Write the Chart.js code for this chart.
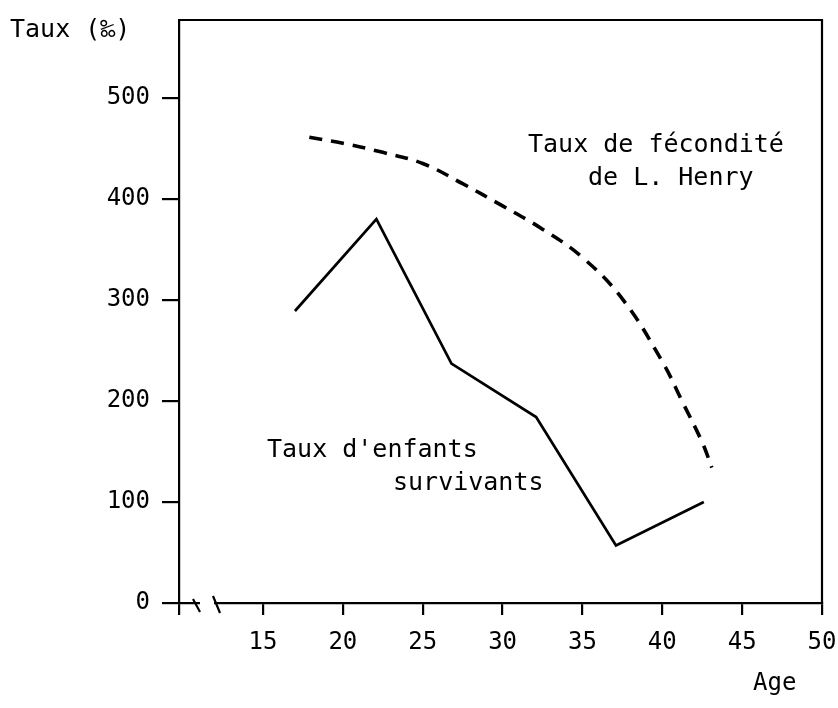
<!DOCTYPE html>
<html lang="fr">
<head>
<meta charset="utf-8">
<title>Taux de fécondité et taux d'enfants survivants</title>
<script src="https://cdn.jsdelivr.net/npm/chart.js@4.4.1/dist/chart.umd.min.js"></script>
<style>
  html, body { margin: 0; padding: 0; background: #fff; }
  #wrap { width: 838px; height: 708px; position: relative; }
</style>
</head>
<body>
<div id="wrap"><canvas id="chart"></canvas></div>
<script>
// values (age, taux pour mille)
const survivantsAges = [17, 22.1, 26.8, 32.1, 37.1, 42.6];
const survivantsTaux = [289, 380, 237, 184, 57, 100];

const henryAges = [17.9, 20, 22.5, 25, 27.5, 30, 32.5, 35, 37.5, 40, 41.2, 42.5, 43.1];
const henryTaux = [461, 455, 446, 435, 415, 393, 370, 342, 301, 239, 201, 159, 134];

const xTicks = [15, 20, 25, 30, 35, 40, 45, 50];
const yTicks = [0, 100, 200, 300, 400, 500];

const labelHenry = ['Taux de fécondité', 'de L. Henry'];
const labelSurvivants = ["Taux d'enfants", 'survivants'];
const yTitle = 'Taux (‰)';
const xTitle = 'Age';

// axis starts a bit before 15 (broken axis), y goes a bit above 500
const xMin = 9.74;
const xMax = 50;
const yMax = 577;

const FONT = '"DejaVu Sans Mono", monospace';

function toPoints(xs, ys) {
  return xs.map((x, i) => ({ x: x, y: ys[i] }));
}

// frame, axis break and the hand-placed texts
const decor = {
  id: 'decor',
  afterDraw(chart) {
    const ctx = chart.ctx;
    const a = chart.chartArea;
    ctx.save();
    ctx.strokeStyle = '#000';
    ctx.lineWidth = 2.2;

    ctx.beginPath();
    ctx.moveTo(a.left - 1, a.top);
    ctx.lineTo(a.right, a.top);
    ctx.lineTo(a.right, a.bottom);
    ctx.stroke();

    // break in the x axis
    ctx.fillStyle = '#fff';
    ctx.fillRect(a.left + 21, a.bottom - 3, 14, 6);
    ctx.beginPath();
    ctx.moveTo(a.left + 14, a.bottom - 4);
    ctx.lineTo(a.left + 21, a.bottom + 9);
    ctx.moveTo(a.left + 34, a.bottom - 7);
    ctx.lineTo(a.left + 41, a.bottom + 10);
    ctx.stroke();

    ctx.fillStyle = '#000';
    ctx.textBaseline = 'middle';
    ctx.textAlign = 'left';
    ctx.font = '25px ' + FONT;
    ctx.fillText(yTitle, 10, 30);
    ctx.fillText(labelHenry[0], 528, 145);
    ctx.fillText(labelHenry[1], 588, 178);
    ctx.fillText(labelSurvivants[0], 267, 450);
    ctx.fillText(labelSurvivants[1], 393, 483);
    ctx.font = '24px ' + FONT;
    ctx.fillText(xTitle, 753, 684);
    ctx.restore();
  }
};

const chart = new Chart(document.getElementById('chart'), {
  type: 'line',
  data: {
    datasets: [
      {
        label: 'Taux de fécondité de L. Henry',
        data: toPoints(henryAges, henryTaux),
        borderColor: '#000',
        borderWidth: 3.6,
        borderDash: [13, 9],
        tension: 0.4,
        pointRadius: 0,
        fill: false
      },
      {
        label: "Taux d'enfants survivants",
        data: toPoints(survivantsAges, survivantsTaux),
        borderColor: '#000',
        borderWidth: 2.7,
        borderJoinStyle: 'miter',
        tension: 0,
        pointRadius: 0,
        fill: false
      }
    ]
  },
  options: {
    responsive: true,
    maintainAspectRatio: false,
    animation: false,
    events: [],
    layout: { padding: { left: 0, top: 20, right: 16, bottom: 0 } },
    plugins: {
      legend: { display: false },
      tooltip: { enabled: false }
    },
    scales: {
      x: {
        type: 'linear',
        min: xMin,
        max: xMax,
        afterBuildTicks: (scale) => {
          scale.ticks = [xMin].concat(xTicks).map(v => ({ value: v }));
        },
        afterFit: (scale) => {
          scale.height = 105;
          scale.paddingLeft = 0;
          scale.paddingRight = 0;
        },
        ticks: {
          color: '#000',
          font: { family: FONT, size: 24 },
          padding: 13,
          maxRotation: 0,
          autoSkip: false,
          callback: (v) => (v === xMin ? '' : String(v))
        },
        grid: {
          drawOnChartArea: false,
          drawTicks: true,
          tickLength: 12,
          color: '#000',
          lineWidth: 2.2
        },
        border: { display: true, color: '#000', width: 2.2 }
      },
      y: {
        type: 'linear',
        min: 0,
        max: yMax,
        afterBuildTicks: (scale) => {
          scale.ticks = yTicks.map(v => ({ value: v }));
        },
        afterFit: (scale) => {
          scale.width = 179;
          scale.paddingTop = 0;
          scale.paddingBottom = 0;
        },
        ticks: {
          color: '#000',
          font: { family: FONT, size: 24 },
          padding: 12,
          autoSkip: false
        },
        grid: {
          drawOnChartArea: false,
          drawTicks: true,
          tickLength: 17,
          color: '#000',
          lineWidth: 2.2
        },
        border: { display: true, color: '#000', width: 2.2 }
      }
    }
  },
  plugins: [decor]
});
</script>
</body>
</html>
